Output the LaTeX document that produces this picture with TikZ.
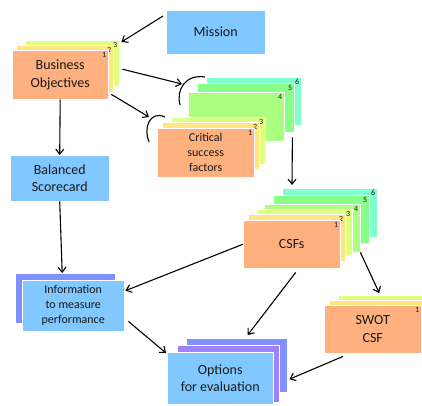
\documentclass[tikz,border=0pt]{standalone}
\usepackage{fontspec}
\setmainfont{Carlito}
\usetikzlibrary{arrows.meta}
\definecolor{sheetorange}{HTML}{FFB07F}
\definecolor{sheetyellow}{HTML}{FFE680}
\definecolor{sheetlime}{HTML}{DFFF80}
\definecolor{sheetgreen}{HTML}{AAFF80}
\definecolor{sheetmint}{HTML}{88FF88}
\definecolor{sheetaqua}{HTML}{80FFCC}
\definecolor{boxblue}{HTML}{80C8FF}
\definecolor{sheetviolet}{HTML}{A080FF}
\definecolor{sheetindigo}{HTML}{8090FF}
\tikzset{
  sheet/.style={anchor=north west, inner sep=0pt, draw=white, line width=0.4pt, align=center, text=black!90},
  big/.style={font=\fontsize{14}{17.5}\selectfont},
  small/.style={font=\fontsize{12}{15}\selectfont},
  num/.style={anchor=north east, inner sep=2pt, text=black!90, font=\fontsize{8}{9}\selectfont},
  link/.style={-{Straight Barb[length=5pt,width=8pt]}, line width=1.1pt},
  bracket/.style={line width=1.1pt}
}
\begin{document}
\begin{tikzpicture}[x=1pt,y=-1pt]
\useasboundingbox (0,0) rectangle (422,405);
% mission
\node[sheet,big,fill=boxblue,minimum width=99pt,minimum height=44pt] (mission) at (166,10) {Mission};
% business objectives
\foreach \n/\x/\y/\w/\h/\c in {3/25/40/94/46/sheetlime,2/16/45/97/47/sheetyellow}
  \node[sheet,fill=\c,minimum width=\w pt,minimum height=\h pt,label={[num]north east:\n}] (bo\n) at (\x,\y) {};
\node[sheet,big,fill=sheetorange,minimum width=96pt,minimum height=49pt,label={[num]north east:1}] (bo1) at (12,50) {Business\\Objectives};
% critical success factors
\foreach \n/\x/\y/\w/\h/\c in {6/206/77/95/48/sheetaqua,5/197/83/97/49/sheetmint,4/188/92/96/49/sheetgreen,3/171/117/94/47/sheetlime,2/162/122/97/47/sheetyellow}
  \node[sheet,fill=\c,minimum width=\w pt,minimum height=\h pt,label={[num]north east:\n}] (cs\n) at (\x,\y) {};
\node[sheet,small,fill=sheetorange,minimum width=97pt,minimum height=49pt,label={[num]north east:1}] (cs1) at (157,128) {Critical\\success\\factors};
% CSFs
\foreach \n/\x/\y/\w/\h/\c in {6/282/188/95/49/sheetaqua,5/273/195/96/48/sheetmint,4/264/204/96/48/sheetgreen,3/257/209/95/46/sheetlime,2/248/214/97/47/sheetyellow}
  \node[sheet,fill=\c,minimum width=\w pt,minimum height=\h pt,label={[num]north east:\n}] (cf\n) at (\x,\y) {};
\node[sheet,big,fill=sheetorange,minimum width=97pt,minimum height=48pt,label={[num]north east:1}] (cf1) at (243,220) {CSFs};
% SWOT
\foreach \n/\x/\y/\c in {3/338/295/sheetlime,2/329/300/sheetyellow}
  \node[sheet,fill=\c,minimum width=100pt,minimum height=48pt] (sw\n) at (\x,\y) {};
\node[sheet,big,fill=sheetorange,minimum width=97pt,minimum height=48pt,label={[num]north east:1}] (sw1) at (324,305) {SWOT\\CSF};
% left column
\node[sheet,big,fill=boxblue,minimum width=99pt,minimum height=46pt] (bsc) at (10,155) {Balanced\\Scorecard};
\node[sheet,fill=sheetindigo,minimum width=100pt,minimum height=50pt] (infob) at (15,273) {};
\node[sheet,small,fill=boxblue,minimum width=102pt,minimum height=51pt] (info) at (22,280) {Information\\to measure\\performance};
% options
\node[sheet,fill=sheetindigo,minimum width=101pt,minimum height=54pt] (op3) at (186,338) {};
\node[sheet,fill=sheetviolet,minimum width=102pt,minimum height=57pt] (op2) at (177,345) {};
\node[sheet,big,fill=boxblue,minimum width=106pt,minimum height=52pt] (op1) at (167,352) {Options\\for evaluation};

% brackets
\draw[bracket] ([xshift=-1pt]cs6.north west) .. controls +(-20,-3) and +(-4,-15) .. ++(-25,28);
\draw[bracket] ([xshift=-6pt]cs3.north west) .. controls +(-15,-7) and +(-6,-14) .. ++(-16,25);

% arrows
\draw[link] ([xshift=-3pt,yshift=-6pt]mission.north west) -- ([xshift=2pt,yshift=-2pt]bo3.north east);
\draw[link] ([xshift=3pt,yshift=-6pt]bo3.east) -- ([xshift=-15pt,yshift=-1pt]cs5.north west);
\draw[link] ([xshift=3pt,yshift=5pt]bo1.south east) -- ([xshift=-13pt,yshift=5pt]cs2.north west);
\draw[link] ([xshift=-2pt,yshift=-5pt]cs5.south east) -- ([xshift=10pt,yshift=3pt]cf6.north west);
\draw[link] (bo1.south) -- (bsc.north);
\draw[link] (bsc.south) -- ([xshift=-3pt]infob.north);
\draw[link] (cf1.west) -- ([xshift=1pt,yshift=15pt]info.east);
\draw[link] ([xshift=4pt,yshift=10pt]info.south east) -- ([xshift=-1pt,yshift=-1pt]op1.north west);
\draw[link] ([xshift=4pt,yshift=-4pt]cf1.south) -- ([xshift=11pt,yshift=3pt]op3.north);
\draw[link] (cf4.south east) -- ([xshift=-9pt,yshift=2pt]sw3.north);
\draw[link] ([xshift=19pt,yshift=-3pt]sw1.south west) -- ([xshift=2pt,yshift=-14pt]op3.east);
\end{tikzpicture}
\end{document}
